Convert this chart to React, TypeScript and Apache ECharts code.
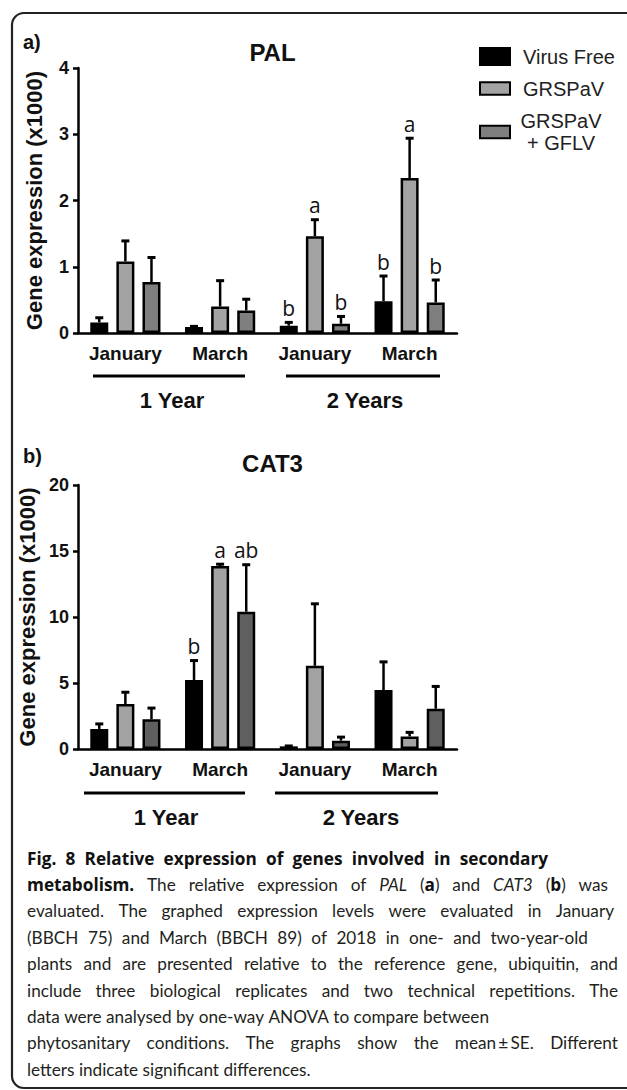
import React, { useEffect, useRef } from "react";
import * as echarts from "echarts";

const categories = ["January", "March", "January", "March"];
const seriesNames = ["Virus Free", "GRSPaV", "GRSPaV + GFLV"];

// PAL (x1000)
const palVirusFree = [0.16, 0.09, 0.11, 0.48];
const palVirusFreeSE = [0.07, 0.01, 0.05, 0.38];
const palGRSPaV = [1.08, 0.4, 1.46, 2.34];
const palGRSPaVSE = [0.31, 0.39, 0.25, 0.6];
const palGFLV = [0.77, 0.34, 0.14, 0.46];
const palGFLVSE = [0.37, 0.17, 0.11, 0.34];
const palLettersVirusFree = ["", "", "b", "b"];
const palLettersGRSPaV = ["", "", "a", "a"];
const palLettersGFLV = ["", "", "b", "b"];

// CAT3 (x1000)
const cat3VirusFree = [1.52, 5.23, 0.2, 4.47];
const cat3VirusFreeSE = [0.38, 1.47, 0.03, 2.13];
const cat3GRSPaV = [3.4, 13.86, 6.3, 0.95];
const cat3GRSPaVSE = [0.9, 0.14, 4.7, 0.31];
const cat3GFLV = [2.25, 10.4, 0.63, 3.05];
const cat3GFLVSE = [0.85, 3.56, 0.27, 1.69];
const cat3LettersVirusFree = ["", "b", "", ""];
const cat3LettersGRSPaV = ["", "a", "", ""];
const cat3LettersGFLV = ["", "ab", "", ""];

const palAxis = { min: 0, max: 4, interval: 1 };
const cat3Axis = { min: 0, max: 20, interval: 5 };

const groupLabels = ["1 Year", "2 Years"];

const captionLines = [
  "{h|Fig.} {h|8} {h|Relative} {h|expression} {h|of} {h|genes} {h|involved} {h|in} {h|secondary}",
  "{b|metabolism.} The relative expression of {i|PAL} ({b|a}) and {i|CAT3} ({b|b}) was",
  "evaluated. The graphed expression levels were evaluated in January",
  "(BBCH 75) and March (BBCH 89) of 2018 in one- and two-year-old",
  "plants and are presented relative to the reference gene, ubiquitin, and",
  "include three biological replicates and two technical repetitions. The",
  "data were analysed by one-way ANOVA to compare between",
  "phytosanitary conditions. The graphs show the mean\u2009\u00b1\u2009SE. Different",
  "letters indicate significant differences.",
];
// right edge each caption line is justified to (0 = natural spacing)
const captionRightEdges = [548, 608, 614, 588, 618, 618, 0, 618, 0];

const ARIAL = "'Liberation Sans', Arial, sans-serif";
const CAP_FAMILY = "Lato";
const CAP_SIZE = 17.2;
const BOLD_FAMILY = "'Open Sans'";
const BOLD_SIZE = 17.2;
const CAP_COLOR = "#231f20";
const BAR_W = 18;
const BAR_GAP = 0.45;
const colorsA = ["#000000", "#a3a3a3", "#7f7f7f"];
const colorsB = ["#000000", "#a3a3a3", "#5f5f5f"];

const GRID_LEFT = 78;
const GRID_W = 379;

function barSeries(g: number, k: number, data: number[], colors: string[]) {
  return {
    type: "bar",
    name: seriesNames[k],
    xAxisIndex: g,
    yAxisIndex: g,
    data,
    barWidth: BAR_W,
    barGap: BAR_GAP * 100 + "%",
    itemStyle: { color: colors[k], borderColor: "#000", borderWidth: 2.5 },
    z: 2,
  };
}

function errSeries(g: number, k: number, means: number[], ses: number[], letters: string[]) {
  const off = (k - 1) * BAR_W * (1 + BAR_GAP);
  return {
    type: "custom",
    name: seriesNames[k],
    xAxisIndex: g,
    yAxisIndex: g,
    z: 3,
    data: means.map((m, i) => [i, m, ses[i]]),
    renderItem: (params: any, api: any) => {
      const i = api.value(0);
      const m = api.value(1);
      const se = api.value(2);
      const p0 = api.coord([i, m]);
      const p1 = api.coord([i, m + se]);
      const cx = p0[0] + off;
      const letter = letters[params.dataIndex];
      const children: any[] = [
        { type: "line", shape: { x1: cx, y1: p0[1], x2: cx, y2: p1[1] }, style: { stroke: "#000", lineWidth: 2.5 } },
        { type: "line", shape: { x1: cx - 4, y1: p1[1], x2: cx + 4, y2: p1[1] }, style: { stroke: "#000", lineWidth: 3 } },
      ];
      if (letter) {
        children.push({
          type: "text",
          style: {
            text: letter,
            x: cx,
            y: p1[1] - 4,
            align: "center",
            verticalAlign: "bottom",
            fontSize: 21,
            fontFamily: "'Open Sans', sans-serif",
            fill: "#111",
          },
        });
      }
      return { type: "group", children };
    },
  };
}

function xAxisCfg(g: number) {
  return {
    type: "category",
    gridIndex: g,
    data: categories,
    axisLine: { lineStyle: { color: "#000", width: 2.5 } },
    axisTick: { alignWithLabel: true, length: 6, lineStyle: { color: "#000", width: 2.5 } },
    axisLabel: { interval: 0, fontSize: 19, fontWeight: "bold", fontFamily: ARIAL, color: "#111", margin: 11 },
  };
}

function yAxisCfg(g: number, ax: { min: number; max: number; interval: number }) {
  return {
    type: "value",
    gridIndex: g,
    min: ax.min,
    max: ax.max,
    interval: ax.interval,
    name: "Gene expression (x1000)",
    nameLocation: "middle",
    nameGap: 33,
    nameTextStyle: { fontSize: 22, fontWeight: "bold", fontFamily: ARIAL, color: "#111" },
    axisLine: { show: true, lineStyle: { color: "#000", width: 2.5 } },
    axisTick: { show: true, length: 5, lineStyle: { color: "#000", width: 2.5 } },
    splitLine: { show: false },
    axisLabel: { fontSize: 18, fontWeight: "bold", fontFamily: ARIAL, color: "#111", margin: 9 },
  };
}

function groupGraphics(lineY: number, textY: number, segs: number[][], textX: number[]) {
  const out: any[] = [];
  segs.forEach((s, idx) => {
    out.push({
      type: "line",
      shape: { x1: s[0], y1: lineY, x2: s[1], y2: lineY },
      style: { stroke: "#000", lineWidth: 3 },
      silent: true,
    });
    out.push({
      type: "text",
      x: textX[idx],
      y: textY,
      style: {
        text: groupLabels[idx],
        align: "center",
        verticalAlign: "middle",
        fontSize: 22,
        fontWeight: "bold",
        fontFamily: ARIAL,
        fill: "#111",
      },
      silent: true,
    });
  });
  return out;
}

function buildCaption(): any[] {
  const ctx = document.createElement("canvas").getContext("2d")!;
  const fontOf = (tag: string) => {
    if (tag === "b" || tag === "h") return `bold ${BOLD_SIZE}px ${BOLD_FAMILY}`;
    if (tag === "i") return `italic ${CAP_SIZE}px ${CAP_FAMILY}`;
    return `${CAP_SIZE}px ${CAP_FAMILY}`;
  };
  const measureWord = (w: string) => {
    let total = 0;
    const re = /\{(b|i|h)\|([^}]*)\}/g;
    let last = 0;
    let m: RegExpExecArray | null;
    while ((m = re.exec(w))) {
      if (m.index > last) {
        ctx.font = fontOf("");
        total += ctx.measureText(w.slice(last, m.index)).width;
      }
      ctx.font = fontOf(m[1]);
      total += ctx.measureText(m[2]).width;
      last = re.lastIndex;
    }
    if (last < w.length) {
      ctx.font = fontOf("");
      total += ctx.measureText(w.slice(last)).width;
    }
    return total;
  };
  ctx.font = fontOf("");
  const spaceW = ctx.measureText(" ").width;
  const rich = {
    b: { fontWeight: "bold", fontSize: BOLD_SIZE, fontFamily: BOLD_FAMILY, fill: "#111" },
    h: { fontWeight: "bold", fontSize: BOLD_SIZE, fontFamily: BOLD_FAMILY, fill: "#111" },
    i: { fontStyle: "italic", fontSize: CAP_SIZE, fontFamily: CAP_FAMILY, fill: CAP_COLOR },
  };
  const out: any[] = [];
  const x0 = 27;
  captionLines.forEach((line, li) => {
    const words = line.split(" ");
    const widths = words.map(measureWord);
    const sum = widths.reduce((a, b) => a + b, 0);
    const target = captionRightEdges[li];
    let gap = spaceW;
    if (target && words.length > 1) gap = Math.max(2.5, (target - x0 - sum) / (words.length - 1));
    let x = x0;
    const y = 858 + li * 26.4;
    words.forEach((w, wi) => {
      out.push({
        type: "text",
        x,
        y,
        silent: true,
        style: {
          text: w,
          verticalAlign: "middle",
          fontSize: CAP_SIZE,
          fontFamily: CAP_FAMILY,
          fill: CAP_COLOR,
          rich,
        },
      });
      x += widths[wi] + gap;
    });
  });
  return out;
}

export default function App() {
  const ref = useRef<HTMLDivElement>(null);
  useEffect(() => {
    document.body.style.margin = "0";
    const chart = echarts.init(ref.current!, null, { renderer: "svg" });
    const caption = buildCaption();
    const center = GRID_LEFT + GRID_W / 2;
    const flatIcon = "path://M0,0H30V12.5H0Z";

    chart.setOption({
      animation: false,
      backgroundColor: "#fff",
      title: [
        { text: "a)", left: 18, top: 27, textStyle: { fontSize: 20, fontWeight: "bold", fontFamily: ARIAL, color: "#111" } },
        { text: "PAL", left: center, top: 35, textAlign: "center", textStyle: { fontSize: 24, fontWeight: "bold", fontFamily: ARIAL, color: "#111" } },
        { text: "b)", left: 18, top: 441, textStyle: { fontSize: 20, fontWeight: "bold", fontFamily: ARIAL, color: "#111" } },
        { text: "CAT3", left: center, top: 446, textAlign: "center", textStyle: { fontSize: 24, fontWeight: "bold", fontFamily: ARIAL, color: "#111" } },
      ],
      legend: {
        data: [
          { name: seriesNames[0], icon: "rect" },
          { name: seriesNames[1], icon: flatIcon },
          { name: seriesNames[2], icon: flatIcon },
        ],
        orient: "vertical",
        left: 474,
        top: 41,
        itemWidth: 30,
        itemHeight: 17,
        itemGap: 11,
        symbolKeepAspect: true,
        selectedMode: false,
        formatter: (name: string) => (name === "GRSPaV + GFLV" ? "{c|GRSPaV}\n{c|+ GFLV}" : name),
        textStyle: {
          fontSize: 20,
          lineHeight: 21,
          fontFamily: ARIAL,
          color: "#222",
          padding: [0, 0, 0, 8],
          rich: { c: { fontSize: 20, fontFamily: ARIAL, color: "#222", width: 76, align: "center", lineHeight: 22 } },
        },
      },
      grid: [
        { left: GRID_LEFT, top: 68, width: GRID_W, height: 265 },
        { left: GRID_LEFT, top: 485, width: GRID_W, height: 264 },
      ],
      xAxis: [xAxisCfg(0), xAxisCfg(1)],
      yAxis: [yAxisCfg(0, palAxis), yAxisCfg(1, cat3Axis)],
      series: [
        barSeries(0, 0, palVirusFree, colorsA),
        barSeries(0, 1, palGRSPaV, colorsA),
        barSeries(0, 2, palGFLV, colorsA),
        barSeries(1, 0, cat3VirusFree, colorsB),
        barSeries(1, 1, cat3GRSPaV, colorsB),
        barSeries(1, 2, cat3GFLV, colorsB),
        errSeries(0, 0, palVirusFree, palVirusFreeSE, palLettersVirusFree),
        errSeries(0, 1, palGRSPaV, palGRSPaVSE, palLettersGRSPaV),
        errSeries(0, 2, palGFLV, palGFLVSE, palLettersGFLV),
        errSeries(1, 0, cat3VirusFree, cat3VirusFreeSE, cat3LettersVirusFree),
        errSeries(1, 1, cat3GRSPaV, cat3GRSPaVSE, cat3LettersGRSPaV),
        errSeries(1, 2, cat3GFLV, cat3GFLVSE, cat3LettersGFLV),
      ],
      graphic: [
        {
          type: "rect",
          shape: { x: 12, y: 13, width: 660, height: 1075, r: 12 },
          style: { fill: "none", stroke: "#222", lineWidth: 2.2 },
          silent: true,
          z: -1,
        },
        ...groupGraphics(
          376,
          400,
          [
            [93, 245],
            [286, 440],
          ],
          [172, 365]
        ),
        ...groupGraphics(
          793,
          817,
          [
            [84, 245],
            [275, 438],
          ],
          [166, 361]
        ),
        ...caption,
      ],
    });
    return () => chart.dispose();
  }, []);
  return <div ref={ref} style={{ width: 627, height: 1090 }} />;
}
